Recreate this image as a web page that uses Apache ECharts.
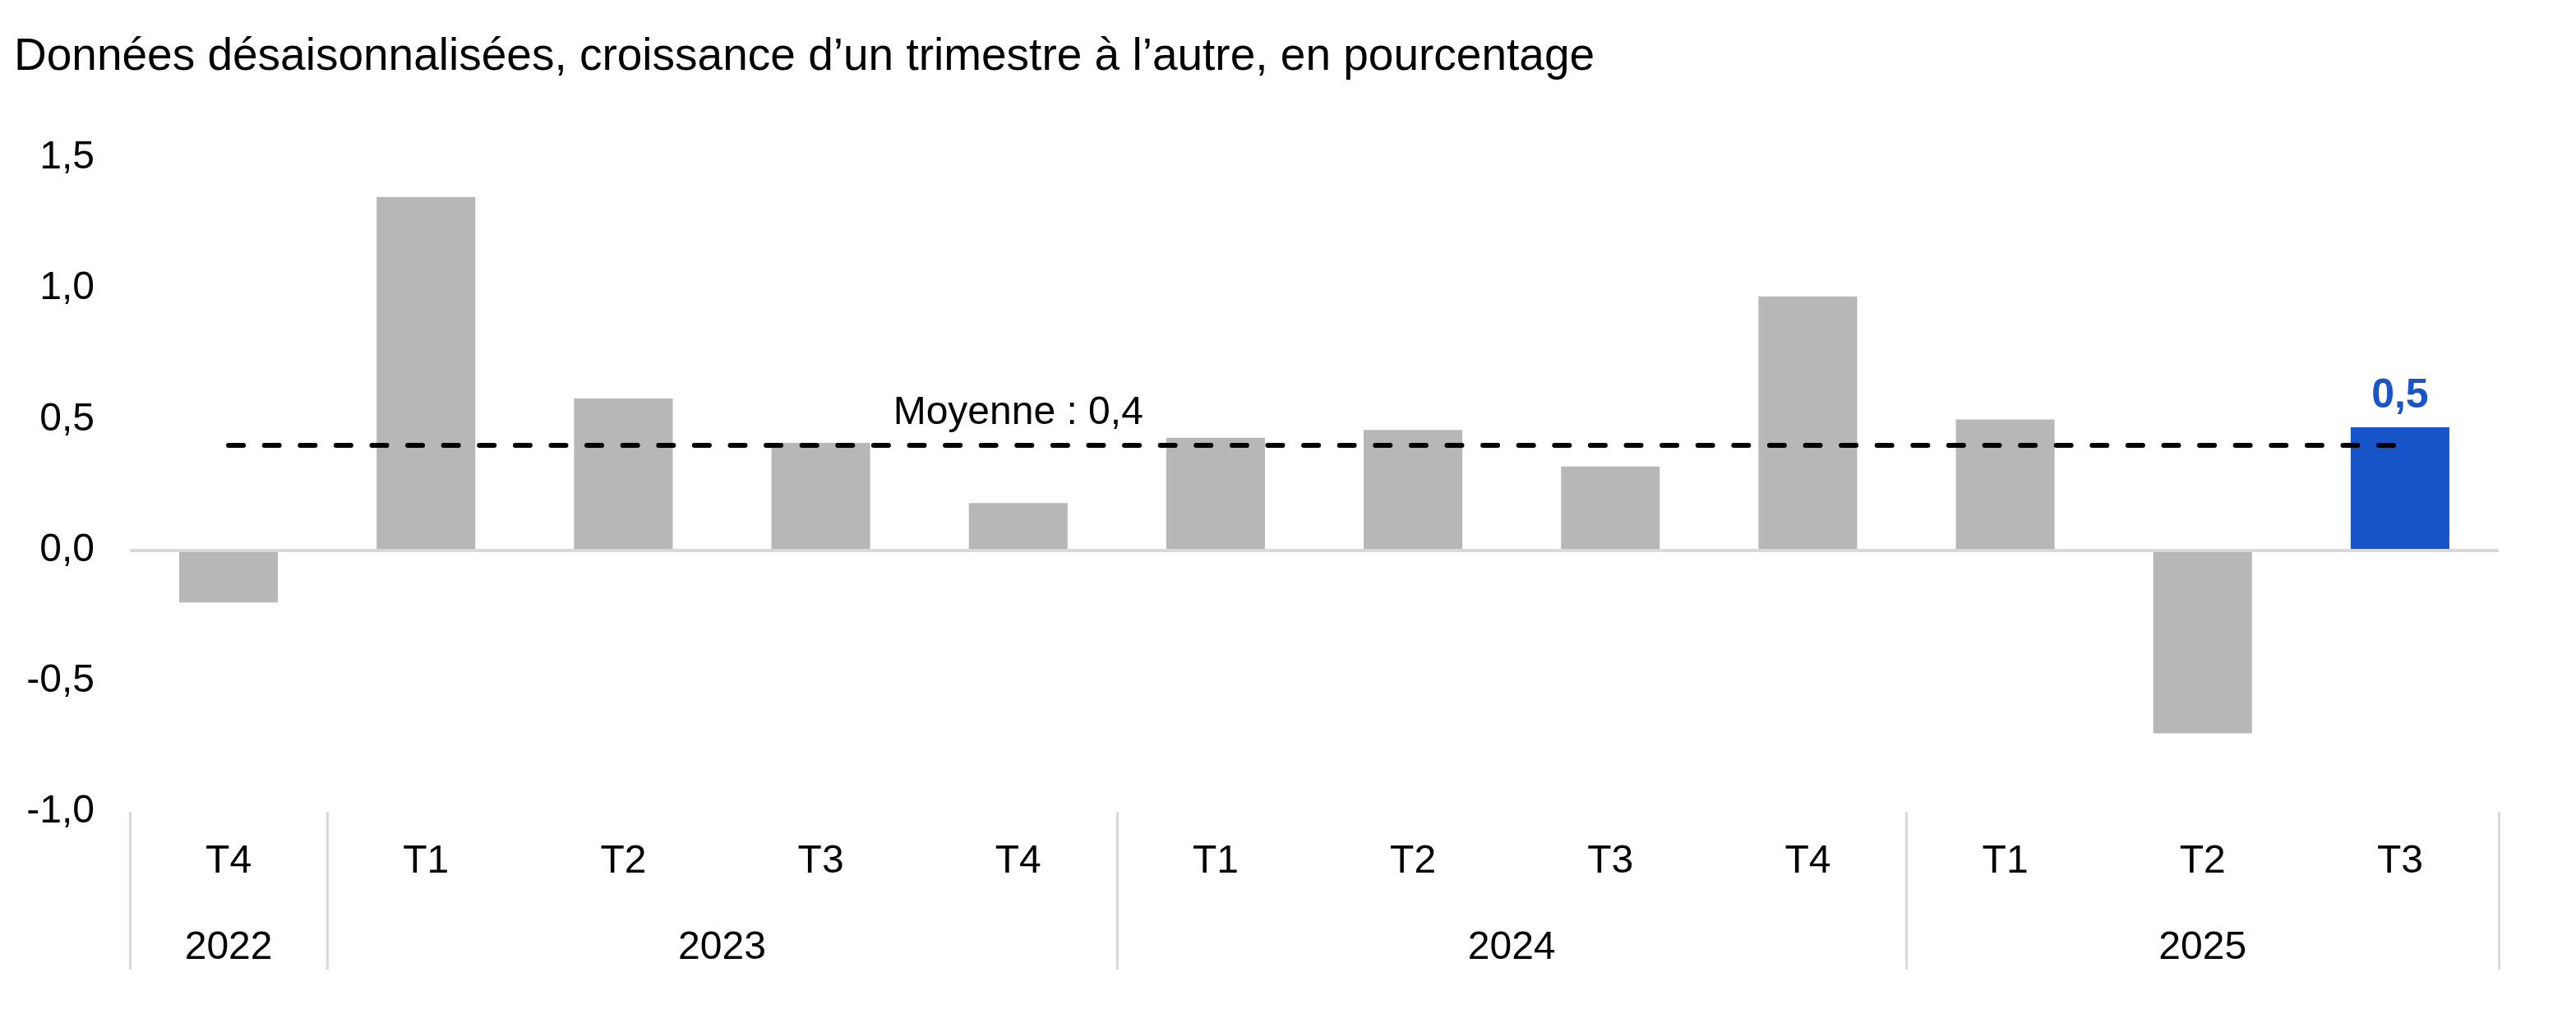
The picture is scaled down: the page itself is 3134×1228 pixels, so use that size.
<!DOCTYPE html>
<html>
<head>
<meta charset="utf-8">
<script src="https://cdn.jsdelivr.net/npm/echarts@6/dist/echarts.min.js"></script>
<style>
html,body{margin:0;padding:0;background:#fff;}
#c{width:3134px;height:1228px;}
</style>
</head>
<body>
<div id="c"></div>
<script>
const titleText = "Données désaisonnalisées, croissance d\u2019un trimestre à l\u2019autre, en pourcentage";
const quarters = ['T4','T1','T2','T3','T4','T1','T2','T3','T4','T1','T2','T3'];
const yearOf = ['2022','2023','2023','2023','2023','2024','2024','2024','2024','2025','2025','2025'];
const values = [-0.20, 1.35, 0.58, 0.41, 0.18, 0.43, 0.46, 0.32, 0.97, 0.50, -0.70, 0.47];
const highlightIndex = 11;
const highlightLabel = '0,5';
const meanValue = 0.4;
const meanLabel = 'Moyenne : 0,4';
const meanLabelIndex = 4;
const yMin = -1.0, yMax = 1.5, yStep = 0.5;

const FONT = "'Liberation Sans', Arial, Helvetica, sans-serif";
const GRAY = '#b7b7b7';
const BLUE = '#1755c8';
const LINE = '#d9d9d9';

// year groups: centers and boundaries in category units
const yearGroups = [];
yearOf.forEach((y, i) => {
  const last = yearGroups[yearGroups.length - 1];
  if (last && last.year === y) last.end = i + 1;
  else yearGroups.push({year: y, start: i, end: i + 1});
});
const boundaryIdx = new Set(yearGroups.map(g => g.start));

const chart = echarts.init(document.getElementById('c'), null, {renderer: 'canvas'});
chart.setOption({
  animation: false,
  backgroundColor: '#fff',
  textStyle: {fontFamily: FONT},
  title: {
    text: titleText,
    left: 12, top: 37,
    textStyle: {fontFamily: FONT, fontSize: 55, fontWeight: 'normal', color: '#000'}
  },
  grid: {left: 158, right: 94, top: 192, bottom: 240, containLabel: false},
  xAxis: [
    {
      type: 'category',
      data: quarters,
      position: 'bottom',
      axisLine: {show: false, onZero: false},
      axisTick: {
        show: true,
        alignWithLabel: false,
        interval: (idx) => boundaryIdx.has(idx),
        length: 192,
        lineStyle: {color: LINE, width: 3}
      },
      axisLabel: {
        show: true, interval: 0, margin: 37,
        fontFamily: FONT, fontSize: 48, color: '#000'
      },
      splitLine: {show: false}
    },
    {
      type: 'value',
      min: 0, max: quarters.length, interval: 0.5,
      position: 'bottom',
      axisLine: {show: false, onZero: false},
      axisTick: {show: false},
      splitLine: {show: false},
      axisLabel: {
        show: true, margin: 142,
        fontFamily: FONT, fontSize: 48, color: '#000',
        showMinLabel: true, showMaxLabel: true,
        formatter: (v) => {
          const g = yearGroups.find(g => Math.abs((g.start + g.end) / 2 - v) < 1e-6);
          return g ? g.year : '';
        }
      }
    }
  ],
  yAxis: {
    type: 'value',
    min: yMin, max: yMax, interval: yStep,
    axisLine: {show: false},
    axisTick: {show: false},
    splitLine: {show: false},
    axisLabel: {
      margin: 43, fontFamily: FONT, fontSize: 48, color: '#000',
      formatter: (v) => v.toFixed(1).replace('.', ',')
    }
  },
  series: [{
    type: 'bar',
    xAxisIndex: 0,
    barCategoryGap: '50%',
    silent: true,
    data: values.map((v, i) => i === highlightIndex ? {
      value: v,
      itemStyle: {color: BLUE},
      label: {
        show: true, position: 'top', distance: 13,
        formatter: highlightLabel,
        fontFamily: FONT, fontSize: 50, fontWeight: 'bold', color: BLUE
      }
    } : {value: v, itemStyle: {color: GRAY}}),
    markLine: {
      silent: true,
      symbol: ['none', 'none'],
      label: {show: false},
      data: [
        {yAxis: 0, lineStyle: {color: LINE, width: 4, type: 'solid'}},
        [
          {coord: [0, meanValue], lineStyle: {color: '#000', width: 6, type: [18, 25.6], cap: 'round'}},
          {coord: [quarters.length - 1, meanValue]}
        ]
      ]
    },
    markPoint: {
      silent: true,
      data: [{
        coord: [meanLabelIndex, meanValue],
        symbol: 'circle', symbolSize: 0,
        label: {
          show: true, position: 'top', distance: 15,
          formatter: meanLabel,
          fontFamily: FONT, fontSize: 48, color: '#000'
        }
      }]
    }
  }]
});
</script>
</body>
</html>
